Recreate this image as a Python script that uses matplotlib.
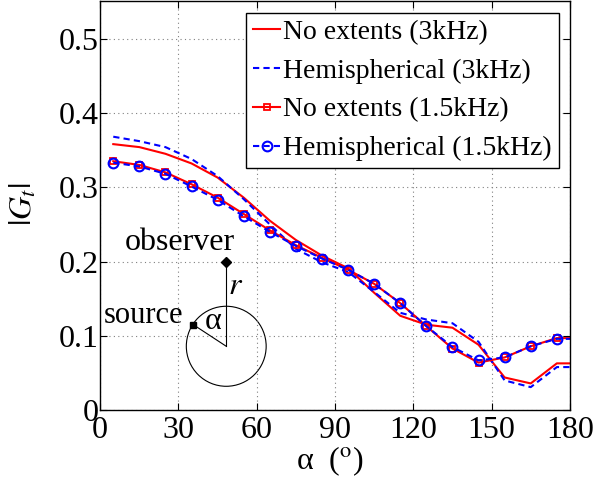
import numpy as np
import matplotlib
matplotlib.use("Agg")
from matplotlib import pyplot as plt
from matplotlib.patches import Ellipse

plt.rcParams['font.family'] = ['Liberation Serif', 'DejaVu Serif']
plt.rcParams['mathtext.fontset'] = 'stix'

# angles (deg); last point lies past the axis edge so the line runs to 180
alpha = [5, 15, 25, 35, 45, 55, 65, 75, 85, 95, 105, 115, 125, 135, 145, 155, 165, 175, 185]

no_ext_3k = [0.358, 0.354, 0.345, 0.332, 0.313, 0.286, 0.255, 0.229, 0.208, 0.191,
             0.158, 0.127, 0.115, 0.111, 0.088, 0.044, 0.036, 0.063, 0.063]
hemi_3k = [0.368, 0.362, 0.354, 0.338, 0.315, 0.284, 0.250, 0.217, 0.199, 0.186,
           0.159, 0.131, 0.122, 0.117, 0.092, 0.040, 0.031, 0.058, 0.058]
no_ext_15k = [0.335, 0.330, 0.320, 0.304, 0.286, 0.264, 0.242, 0.222, 0.205, 0.189,
              0.170, 0.144, 0.113, 0.083, 0.064, 0.071, 0.086, 0.097, 0.097]
hemi_15k = [0.333, 0.328, 0.318, 0.301, 0.283, 0.261, 0.240, 0.221, 0.204, 0.189,
            0.170, 0.144, 0.113, 0.085, 0.067, 0.071, 0.086, 0.096, 0.096]

labels = ['No extents (3kHz)', 'Hemispherical (3kHz)',
          'No extents (1.5kHz)', 'Hemispherical (1.5kHz)']

fs = 23

fig = plt.figure(figsize=(5.93, 4.82), dpi=100)
ax = fig.add_axes([0.169, 0.149, 0.792, 0.848])

ax.plot(alpha, no_ext_3k, '-', color='r', lw=1.5, label=labels[0])
ax.plot(alpha, hemi_3k, '--', color='b', lw=1.5, dashes=(3, 2), label=labels[1])
ax.plot(alpha, no_ext_15k, '-s', color='r', lw=1.5, ms=5, mfc='none', mew=1.3, label=labels[2])
ax.plot(alpha, hemi_15k, '--o', color='b', lw=1.5, dashes=(3, 2), ms=7, mfc='none', mew=1.5,
        label=labels[3])

# sketch of source / observer geometry
cx, cy = 48.3, 0.086
ax.add_patch(Ellipse((cx, cy), 30.6, 0.1077, fill=False, ec='k', lw=0.8))
ax.plot([cx, cx], [cy, 0.200], 'k-', lw=0.8)
ax.plot(cx, 0.200, 'kD', ms=5)
ax.plot([cx, 35.7], [cy, 0.115], 'k-', lw=0.8)
ax.plot(35.7, 0.115, 'ks', ms=5)
ax.text(30.6, 0.225, 'observer', fontsize=fs, ha='center', va='center')
ax.text(16.5, 0.127, 'source', fontsize=22, ha='center', va='center')
ax.text(51.7, 0.166, r'$r$', fontsize=fs, ha='center', va='center')
ax.text(43.3, 0.119, 'α', fontsize=fs, ha='center', va='center')

ax.set_xlim(0, 180)
ax.set_ylim(0, 0.55)
ax.set_xticks(range(0, 181, 30))
ax.set_yticks([0, 0.1, 0.2, 0.3, 0.4, 0.5])
ax.set_yticklabels(['0', '0.1', '0.2', '0.3', '0.4', '0.5'])
ax.tick_params(direction='in', top=True, right=True, labelsize=fs, length=5)
ax.tick_params(axis='y', pad=1)
ax.tick_params(axis='x', pad=4)
ax.grid(True, linestyle=(0, (1, 3)), color='gray', lw=0.8)
for s in ax.spines.values():
    s.set_linewidth(1.0)

ax.set_xlabel(r'α  ($^{\mathrm{o}}$)', fontsize=fs)
ax.set_ylabel(r'$|G_t|$', fontsize=fs)
ax.xaxis.set_label_coords(0.49, -0.085)
ax.yaxis.set_label_coords(-0.13, 0.504)

leg = ax.legend(loc='upper right', fontsize=20, handlelength=1.0, handletextpad=0.1,
                labelspacing=0.48, borderpad=0.25, borderaxespad=0.4, fancybox=False,
                framealpha=1, edgecolor='k')
leg.get_frame().set_linewidth(1.0)

fig.savefig('out.png', dpi=100)
